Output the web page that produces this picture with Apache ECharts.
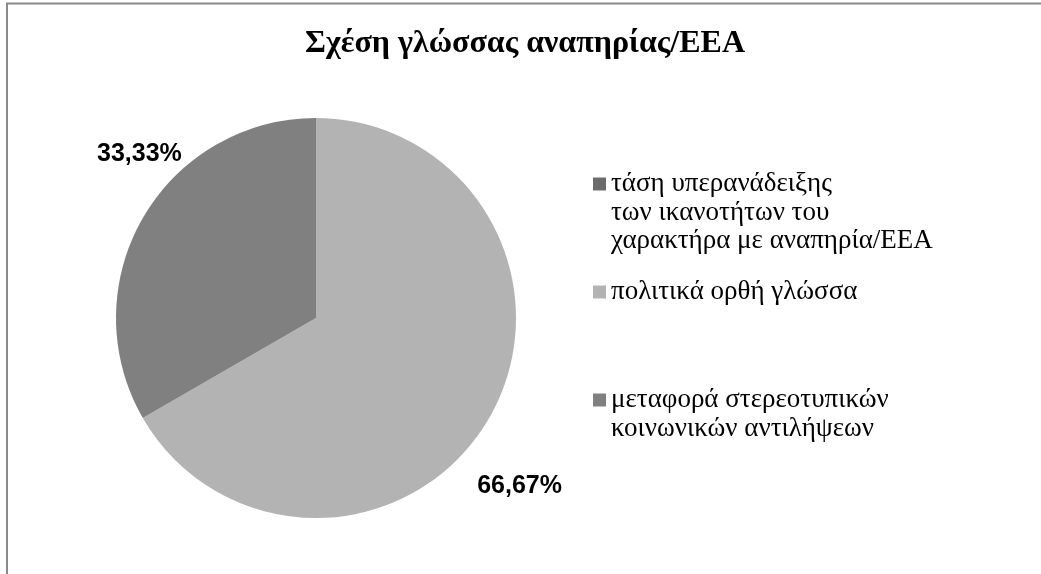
<!DOCTYPE html>
<html>
<head>
<meta charset="utf-8">
<script src="https://cdn.jsdelivr.net/npm/echarts@6/dist/echarts.min.js"></script>
<style>
  html, body { margin: 0; padding: 0; background: #ffffff; }
  #chart { width: 1041px; height: 574px; }
</style>
</head>
<body>
<div id="chart"></div>
<script>
// Categories of the pie (legend order)
const categories = [
  'τάση υπερανάδειξης\nτων ικανοτήτων του\nχαρακτήρα με αναπηρία/ΕΕΑ',
  'πολιτικά ορθή γλώσσα',
  'μεταφορά στερεοτυπικών\nκοινωνικών αντιλήψεων'
];
// Share of each category, in percent
const shares = [0, 66.67, 33.33];
// Slice / legend marker colours
const colors = ['#6b6b6b', '#b3b3b3', '#808080'];

const titleText = 'Σχέση γλώσσας αναπηρίας/ΕΕΑ';

const chart = echarts.init(document.getElementById('chart'), null, { renderer: 'canvas' });

const LH = 28.5; // legend line height
const serif = 'Liberation Serif, Times New Roman, serif';

// One legend per entry so each can sit at its own height; blank lines are
// prepended so that the marker lines up with the first line of the entry.
function legendFor(i, markerY) {
  const lines = categories[i].split('\n').length;
  return {
    orient: 'vertical',
    left: 593,
    top: markerY - (lines - 0.5) * LH,
    padding: 0,
    itemWidth: 13,
    itemHeight: 13,
    icon: 'rect',
    selectedMode: false,
    data: [categories[i]],
    formatter: name => ' \n'.repeat(lines - 1) + name,
    textStyle: {
      fontFamily: serif,
      fontSize: 27,
      color: '#000000',
      lineHeight: LH
    }
  };
}

const option = {
  backgroundColor: '#ffffff',
  animation: false,
  title: {
    text: titleText,
    left: 305,
    top: 28,
    padding: 0,
    textStyle: {
      fontFamily: serif,
      fontWeight: 'bold',
      fontSize: 32,
      color: '#000000'
    }
  },
  legend: [
    legendFor(0, 184),
    legendFor(1, 292),
    legendFor(2, 400)
  ],
  graphic: [{
    type: 'rect',
    silent: true,
    shape: { x: 7, y: 3.5, width: 2000, height: 2000 },
    style: { fill: 'none', stroke: '#8a8a8a', lineWidth: 2 }
  }],
  series: [{
    type: 'pie',
    center: [316, 318],
    radius: 200,
    startAngle: 90,
    clockwise: true,
    avoidLabelOverlap: false,
    label: {
      show: true,
      position: 'outside',
      fontFamily: 'Liberation Sans, Arial, sans-serif',
      fontWeight: 'bold',
      fontSize: 25,
      color: '#000000',
      formatter: p => p.value.toFixed(2).replace('.', ',') + '%'
    },
    labelLine: { show: false, length: 15, length2: 0 },
    labelLayout: function (params) {
      // nudge the outside labels into the free space beside the pie
      if (params.dataIndex === 2) return { dx: 57, dy: -56 };
      if (params.dataIndex === 1) return { dx: -30, dy: 61 };
      return {};
    },
    emphasis: { disabled: true },
    data: categories.map((name, i) => ({
      name: name,
      value: shares[i],
      itemStyle: { color: colors[i] },
      label: shares[i] === 0 ? { show: false } : undefined,
      labelLine: shares[i] === 0 ? { show: false } : undefined
    }))
  }]
};

chart.setOption(option);
</script>
</body>
</html>
